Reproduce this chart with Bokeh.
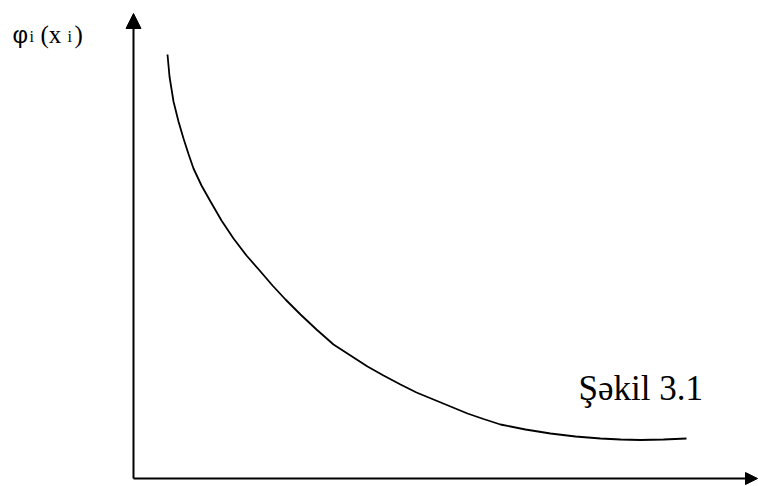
from bokeh.plotting import figure
from bokeh.models import Range1d, Arrow, NormalHead
from bokeh.core.properties import value
from bokeh.embed import file_html
from bokeh.resources import INLINE

# Curve phi_i(x_i), in chart units (origin at the axes' corner)
curve_x = [0.68, 0.72, 0.80, 0.90, 1.00, 1.10, 1.20, 1.36, 1.54, 1.76, 2.00,
           2.26, 2.54, 2.78, 3.04, 3.34, 3.66, 4.00, 4.34, 4.68, 5.00, 5.34,
           5.66, 6.00, 6.34, 6.68, 7.00, 7.34, 7.84, 8.34, 8.84, 9.34, 9.74,
           10.14, 10.60, 11.06]
curve_y = [8.48, 8.04, 7.54, 7.14, 6.80, 6.49, 6.20, 5.86, 5.54, 5.16, 4.80,
           4.46, 4.14, 3.86, 3.58, 3.28, 2.98, 2.68, 2.46, 2.24, 2.06, 1.88,
           1.72, 1.58, 1.44, 1.30, 1.19, 1.08, 0.98, 0.90, 0.84, 0.80, 0.78,
           0.77, 0.78, 0.80]

y_axis_top = 9.30
x_axis_right = 12.48

title_text = "Şəkil 3.1"
y_label_parts = ["φ", "i", "(x", "i", ")"]

serif = value("Liberation Serif")

p = figure(width=758, height=486, output_backend="svg", toolbar_location=None,
           x_range=Range1d(-2.66, 12.5), y_range=Range1d(-0.16, 9.56),
           min_border=0, outline_line_color=None)
p.axis.visible = False
p.grid.visible = False
p.background_fill_color = "white"
p.border_fill_color = "white"

# axes with arrow heads
p.add_layout(Arrow(x_start=0, y_start=0, x_end=0, y_end=y_axis_top,
                   line_width=2, line_color="black",
                   end=NormalHead(size=15, fill_color="black", line_color="black", line_width=1)))
p.add_layout(Arrow(x_start=0, y_start=0, x_end=x_axis_right, y_end=0,
                   line_width=2, line_color="black",
                   end=NormalHead(size=12, fill_color="black", line_color="black", line_width=1)))

p.line(curve_x, curve_y, line_color="black", line_width=1.8)

# y label phi_i (x_i)
p.text(x=[-2.42], y=[8.88], text=[y_label_parts[0]], text_font=value("Liberation Sans"),
       text_font_size="24px", text_color="black", text_baseline="alphabetic")
p.text(x=[-2.08], y=[8.84], text=[y_label_parts[1]], text_font=serif,
       text_font_size="16px", text_color="black", text_baseline="alphabetic")
p.text(x=[-1.86], y=[8.88], text=[y_label_parts[2]], text_font=serif,
       text_font_size="25px", text_color="black", text_baseline="alphabetic")
p.text(x=[-1.32], y=[8.84], text=[y_label_parts[3]], text_font=serif,
       text_font_size="16px", text_color="black", text_baseline="alphabetic")
p.text(x=[-1.18], y=[8.88], text=[y_label_parts[4]], text_font=serif,
       text_font_size="25px", text_color="black", text_baseline="alphabetic")

# figure caption
p.text(x=[8.90], y=[1.80], text=[title_text], text_font=serif,
       text_font_size="35px", text_color="black", text_baseline="alphabetic")

open("out.html", "w").write(file_html(p, INLINE))
